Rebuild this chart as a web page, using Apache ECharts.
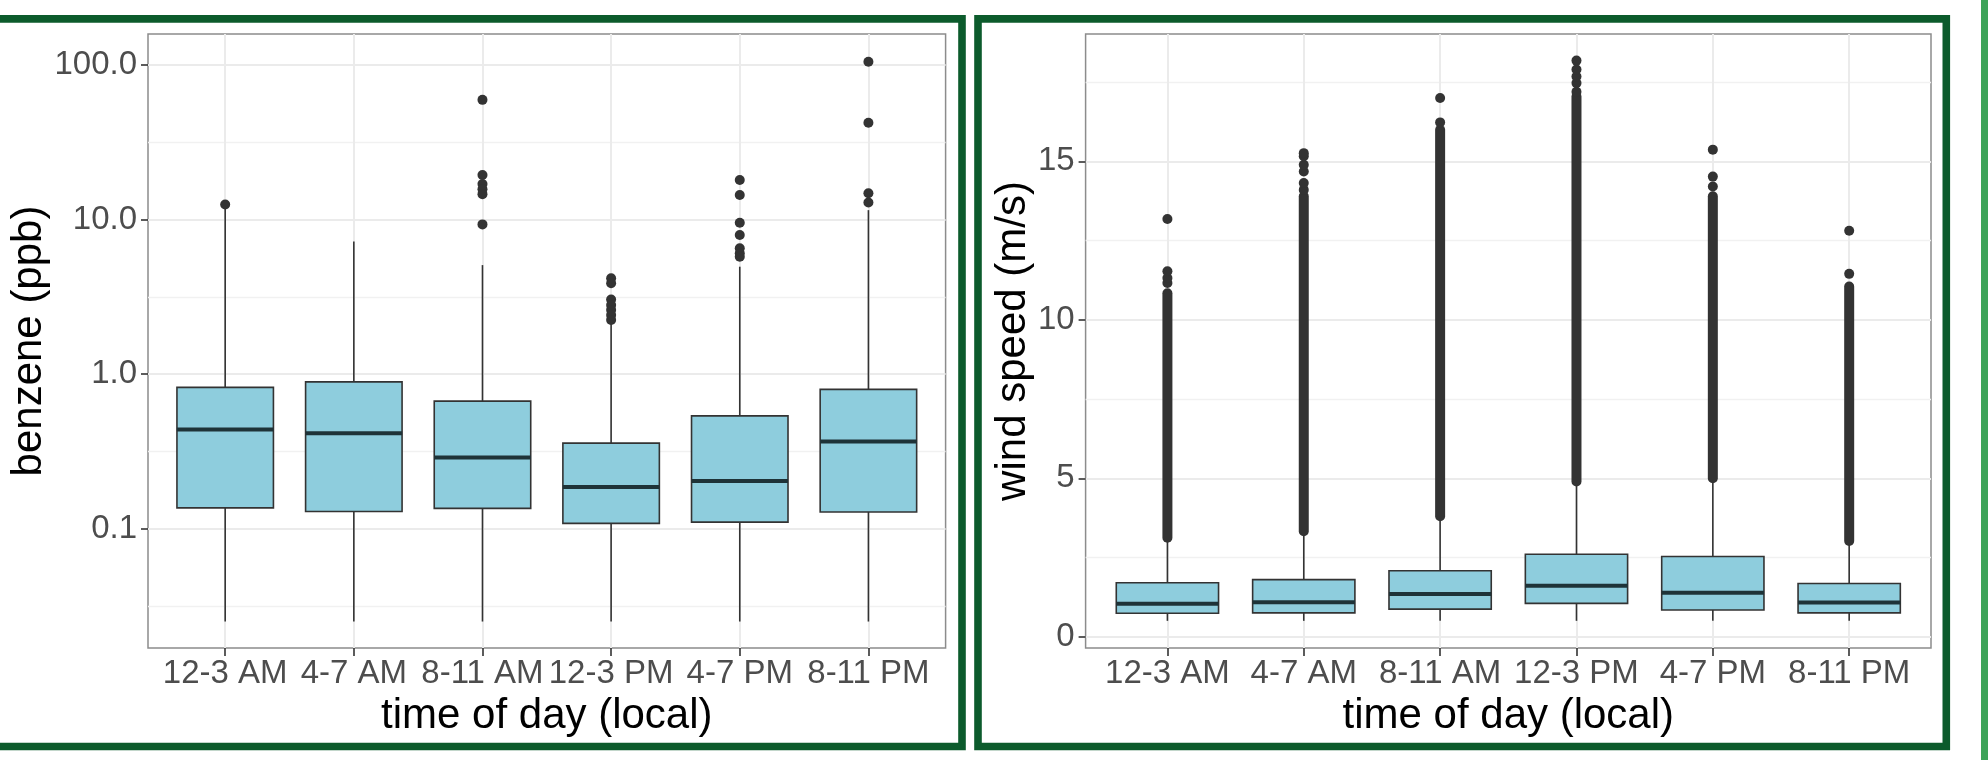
<!DOCTYPE html>
<html>
<head>
<meta charset="utf-8">
<title>benzene and wind speed by time of day</title>
<script src="https://cdn.jsdelivr.net/npm/echarts@6/dist/echarts.min.js"></script>
<style>
  html, body { margin: 0; padding: 0; background: #fff; }
  #chart { width: 1988px; height: 760px; }
</style>
</head>
<body>
<div id="chart"></div>
<script>
// ---- data ----
const categories = ['12-3 AM', '4-7 AM', '8-11 AM', '12-3 PM', '4-7 PM', '8-11 PM'];

// benzene (ppb), log10 axis: [lower whisker, Q1, median, Q3, upper whisker]
const benzeneBoxes = [
  [0.025, 0.136, 0.438, 0.82, 11.8],
  [0.025, 0.129, 0.413, 0.89, 7.2],
  [0.025, 0.135, 0.288, 0.668, 5.07],
  [0.025, 0.108, 0.186, 0.357, 2.13],
  [0.025, 0.110, 0.203, 0.536, 4.95],
  [0.025, 0.128, 0.366, 0.795, 11.5],
];
// [category index, value]
const benzeneOutliers = [
  [0, 12.5],
  [2, 59.5], [2, 19.4], [2, 17.0], [2, 15.7], [2, 14.6], [2, 9.3],
  [3, 4.16], [3, 3.87], [3, 3.04], [3, 2.8], [3, 2.6], [3, 2.41], [3, 2.24],
  [4, 18.0], [4, 14.4], [4, 9.53], [4, 7.94], [4, 6.51], [4, 6.04], [4, 5.74],
  [5, 105], [5, 42.3], [5, 14.8], [5, 12.9],
];
const benzeneTicks = [0.1, 1, 10, 100];

// wind speed (m/s): [lower whisker, Q1, median, Q3, upper whisker]
const windBoxes = [
  [0.5, 0.74, 1.04, 1.70, 3.05],
  [0.5, 0.75, 1.09, 1.80, 3.26],
  [0.5, 0.87, 1.35, 2.08, 3.73],
  [0.5, 1.05, 1.61, 2.60, 4.82],
  [0.5, 0.84, 1.39, 2.53, 4.94],
  [0.5, 0.75, 1.08, 1.68, 2.95],
];
// outliers so dense they merge into a solid column: [category index, from, to]
const windOutlierRuns = [
  [0, 3.12, 10.84],
  [1, 3.33, 13.9],
  [2, 3.8, 16.0],
  [3, 4.9, 17.05],
  [4, 5.0, 13.9],
  [5, 3.02, 11.05],
];
// isolated outliers above the solid columns
const windOutliers = [
  [0, 11.16], [0, 11.32], [0, 11.53], [0, 13.18],
  [1, 14.1], [1, 14.32], [1, 14.68], [1, 14.89], [1, 15.16], [1, 15.26],
  [2, 16.23], [2, 17.0],
  [3, 17.2], [3, 17.47], [3, 17.68], [3, 17.9], [3, 18.18],
  [4, 14.21], [4, 14.52], [4, 15.37],
  [5, 11.45], [5, 12.81],
];
const windTicks = [0, 5, 10, 15];

// ---- styling ----
const FONT = '"Liberation Sans", Arial, sans-serif';
const BOX_FILL = '#8ECDDD';
const INK = '#333333';
const GRID_MAJOR = '#EBEBEB';
const GRID_MINOR = '#F1F1F1';
const FRAME_GREEN = '#0C5B2C';

const catIdx = categories.map((_, i) => i);
const log10 = v => Math.log10(v);

// ggplot-like box: whiskers without caps, heavier median line
const renderBox = (params, api) => {
  const x = api.value(0);
  const [lo, q1, med, q3, hi] = [1, 2, 3, 4, 5].map(i => api.coord([x, api.value(i)]));
  const half = api.size([0.75, 0])[0] / 2;
  const cx = lo[0];
  return {
    type: 'group',
    children: [
      { type: 'line', shape: { x1: cx, y1: lo[1], x2: cx, y2: q1[1] }, style: { stroke: INK, lineWidth: 1.6 } },
      { type: 'line', shape: { x1: cx, y1: q3[1], x2: cx, y2: hi[1] }, style: { stroke: INK, lineWidth: 1.6 } },
      { type: 'rect', shape: { x: cx - half, y: q3[1], width: half * 2, height: q1[1] - q3[1] },
        style: { fill: BOX_FILL, stroke: INK, lineWidth: 1.6 } },
      { type: 'line', shape: { x1: cx - half, y1: med[1], x2: cx + half, y2: med[1] },
        style: { stroke: '#1E3338', lineWidth: 4 } },
    ],
  };
};

// solid column of overlapping outlier dots
const renderRun = (params, api) => {
  const x = api.value(0);
  const a = api.coord([x, api.value(1)]);
  const b = api.coord([x, api.value(2)]);
  return {
    type: 'line',
    shape: { x1: a[0], y1: a[1], x2: b[0], y2: b[1] },
    style: { stroke: INK, lineWidth: 10, lineCap: 'round' },
  };
};

const xAxis = gridIndex => ({
  gridIndex,
  type: 'value',
  min: -0.6,
  max: 5.6,
  name: 'time of day (local)',
  nameLocation: 'middle',
  nameGap: 47,
  nameTextStyle: { fontSize: 42, color: '#000', fontFamily: FONT },
  axisLine: { show: false, onZero: false },
  axisTick: { show: true, customValues: catIdx, length: 8, lineStyle: { color: INK, width: 1.6 } },
  axisLabel: {
    customValues: catIdx,
    formatter: v => categories[Math.round(v)],
    fontSize: 33, color: '#4D4D4D', margin: 9, fontFamily: FONT,
  },
  splitLine: { show: true, lineStyle: { color: GRID_MAJOR, width: 2 } },
});

const yAxis = (gridIndex, cfg) => ({
  gridIndex,
  type: 'value',
  min: cfg.min,
  max: cfg.max,
  splitNumber: 4,
  name: cfg.name,
  nameLocation: 'middle',
  nameGap: cfg.nameGap,
  nameTextStyle: { fontSize: 42, color: '#000', fontFamily: FONT },
  axisLine: { show: false, onZero: false },
  axisTick: { show: true, customValues: cfg.ticks, length: 7, lineStyle: { color: INK, width: 1.6 } },
  axisLabel: {
    customValues: cfg.ticks,
    formatter: cfg.format,
    fontSize: 33, color: '#4D4D4D', margin: 11, fontFamily: FONT,
  },
  splitLine: { show: true, lineStyle: { color: GRID_MAJOR, width: 2 } },
  minorTick: { show: false, splitNumber: 2 },
  minorSplitLine: { show: true, lineStyle: { color: GRID_MINOR, width: 1.3 } },
});

const chart = echarts.init(document.getElementById('chart'), null, { renderer: 'canvas' });

chart.setOption({
  animation: false,
  backgroundColor: '#fff',
  grid: [
    { left: 148, top: 34, right: 1042.4, bottom: 112, show: true, borderColor: '#8C8C8C', borderWidth: 1.5, outerBoundsMode: 'none' },
    { left: 1085.6, top: 34, right: 57, bottom: 112, show: true, borderColor: '#8C8C8C', borderWidth: 1.5, outerBoundsMode: 'none' },
  ],
  xAxis: [xAxis(0), xAxis(1)],
  yAxis: [
    yAxis(0, {
      min: log10(0.01685), max: log10(158.8),
      name: 'benzene (ppb)', nameGap: 98,
      ticks: benzeneTicks.map(log10),
      format: v => Math.pow(10, v).toFixed(1),
    }),
    yAxis(1, {
      min: -0.357, max: 19.02,
      name: 'wind speed (m/s)', nameGap: 50,
      ticks: windTicks,
      format: v => String(Math.round(v)),
    }),
  ],
  series: [
    {
      type: 'custom', xAxisIndex: 0, yAxisIndex: 0, z: 2,
      renderItem: renderBox,
      encode: { x: 0, y: [1, 2, 3, 4, 5] },
      data: benzeneBoxes.map((b, i) => [i, ...b.map(log10)]),
    },
    {
      type: 'scatter', xAxisIndex: 0, yAxisIndex: 0, z: 3,
      symbolSize: 10,
      itemStyle: { color: INK, opacity: 1 },
      data: benzeneOutliers.map(([i, v]) => [i, log10(v)]),
    },
    {
      type: 'custom', xAxisIndex: 1, yAxisIndex: 1, z: 2,
      renderItem: renderBox,
      encode: { x: 0, y: [1, 2, 3, 4, 5] },
      data: windBoxes.map((b, i) => [i, ...b]),
    },
    {
      type: 'custom', xAxisIndex: 1, yAxisIndex: 1, z: 3,
      renderItem: renderRun,
      encode: { x: 0, y: [1, 2] },
      data: windOutlierRuns,
    },
    {
      type: 'scatter', xAxisIndex: 1, yAxisIndex: 1, z: 3,
      symbolSize: 10,
      itemStyle: { color: INK, opacity: 1 },
      data: windOutliers,
    },
  ],
  // slide frames around the two panels
  graphic: [
    { type: 'rect', silent: true, z: 100, shape: { x: -20, y: 18.9, width: 982, height: 727.6 },
      style: { fill: null, stroke: FRAME_GREEN, lineWidth: 7.6 } },
    { type: 'rect', silent: true, z: 100, shape: { x: 978, y: 18.9, width: 968.3, height: 727.6 },
      style: { fill: null, stroke: FRAME_GREEN, lineWidth: 7.6 } },
    { type: 'rect', silent: true, z: 100, shape: { x: 1981, y: 0, width: 7, height: 760 },
      style: { fill: '#3EA359' } },
  ],
});
</script>
</body>
</html>
